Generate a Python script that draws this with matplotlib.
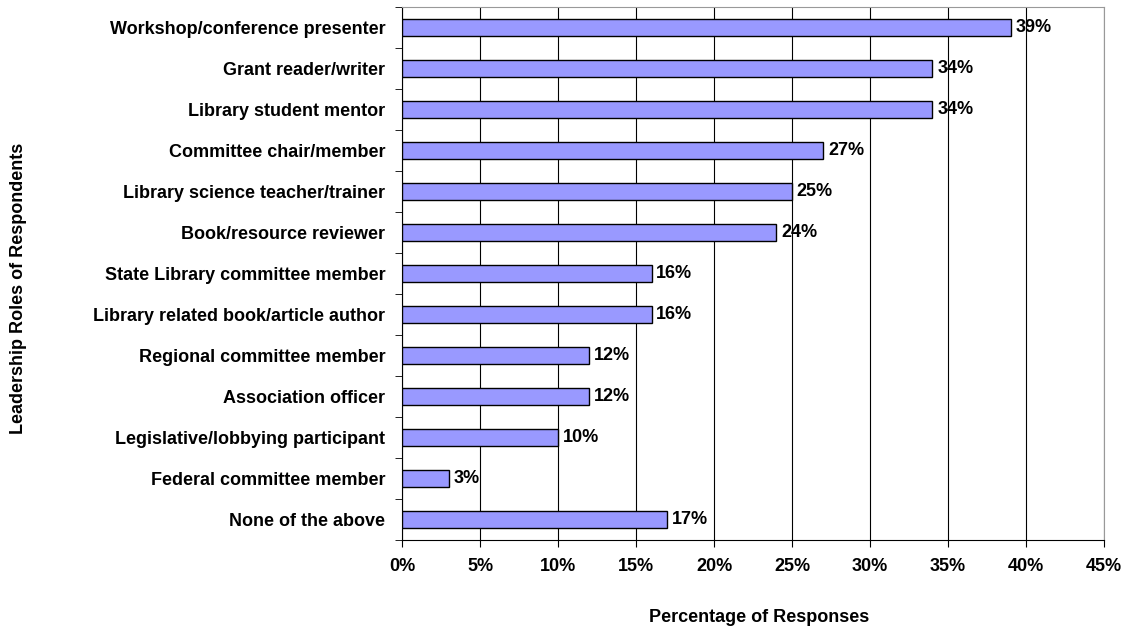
import matplotlib.pyplot as plt
import numpy as np

roles = ["Workshop/conference presenter", "Grant reader/writer", "Library student mentor",
         "Committee chair/member", "Library science teacher/trainer", "Book/resource reviewer",
         "State Library committee member", "Library related book/article author",
         "Regional committee member", "Association officer", "Legislative/lobbying participant",
         "Federal committee member", "None of the above"]
pct = [39, 34, 34, 27, 25, 24, 16, 16, 12, 12, 10, 3, 17]
xticks = [0, 5, 10, 15, 20, 25, 30, 35, 40, 45]

plt.rcParams['font.family'] = ['Liberation Sans', 'DejaVu Sans']
plt.rcParams['font.weight'] = 'bold'
fs = 13

fig = plt.figure(figsize=(11.27, 6.29), dpi=100)
ax = fig.add_axes([0.3567, 0.1415, 0.623, 0.8475])

y = np.arange(len(roles))
ax.barh(y, pct, height=0.4, color='#9999FF', edgecolor='black', linewidth=1, zorder=3)
for yi, v in zip(y, pct):
    ax.text(v + 0.3, yi, f"{v}%", va='center', ha='left', fontsize=fs, fontweight='bold', zorder=4)

ax.set_ylim(len(roles) - 0.5, -0.5)
ax.set_xlim(0, 45)
ax.set_xticks(xticks)
ax.set_xticklabels([f"{t}%" for t in xticks], fontsize=fs, fontweight='bold')
ax.set_yticks(y)
ax.set_yticklabels(roles, fontsize=fs, fontweight='bold')
ax.tick_params(axis='y', length=0, pad=12)
ax.set_yticks(np.arange(-0.5, len(roles)), minor=True)
ax.tick_params(axis='y', which='minor', length=5, color='black')
ax.tick_params(axis='x', length=5, pad=8)
ax.grid(axis='x', color='black', linewidth=0.8, zorder=0)
for s in ['top', 'right']:
    ax.spines[s].set_color('#999999')
ax.spines['left'].set_color('black')
ax.spines['bottom'].set_color('black')

fig.text(0.674, 0.019, "Percentage of Responses", va='center', ha='center',
         fontsize=fs, fontweight='bold')
fig.text(0.016, 0.542, "Leadership Roles of Respondents", rotation=90, va='center', ha='center',
         fontsize=fs, fontweight='bold')

fig.savefig("out.png", dpi=100)
